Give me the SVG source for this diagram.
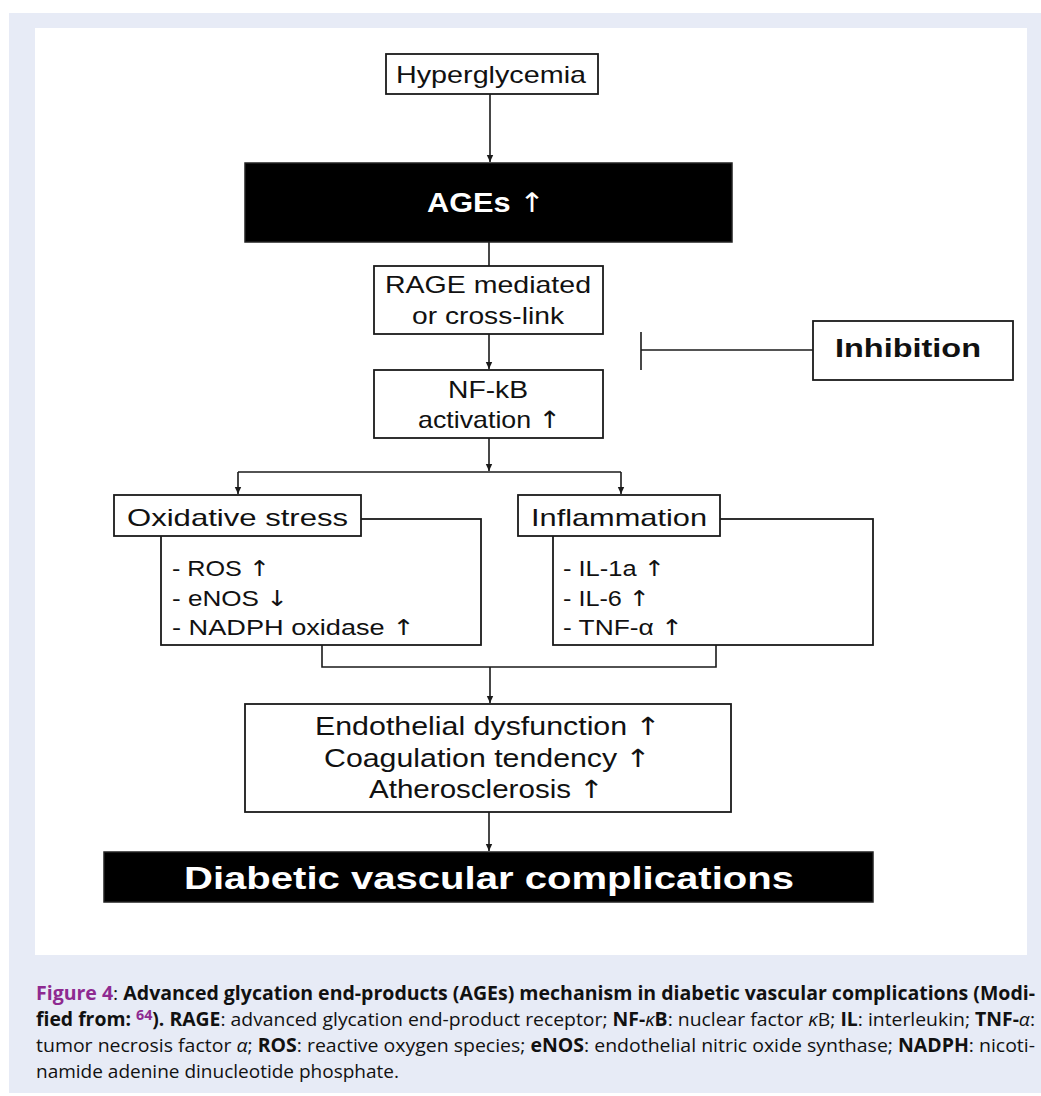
<svg xmlns="http://www.w3.org/2000/svg" width="1041" height="1096" viewBox="0 0 1041 1096">
<style>
.box{fill:#fff;stroke:#1a1a1a;stroke-width:1.8}
.dark{fill:#000;stroke:#222;stroke-width:1.5}
.t{font-family:"Liberation Sans",Arial,sans-serif;fill:#111}
.w{font-family:"Liberation Sans",Arial,sans-serif;fill:#fff;font-weight:bold}
.ar{font-family:"DejaVu Sans",sans-serif;font-weight:normal}
.c{fill:none;stroke:#1a1a1a;stroke-width:1.6}
.cap{font-family:"Open Sans","Noto Sans",sans-serif;font-size:19px;fill:#111}
.b{font-weight:bold}
.fig{fill:#8e2a91;font-weight:bold}
.i{font-style:italic}
</style>
<defs>
<marker id="ah" markerUnits="userSpaceOnUse" markerWidth="8" markerHeight="8" viewBox="0 0 8 8" refX="7" refY="4" orient="auto">
<path d="M0,0.8 L7,4 L0,7.2 Z" fill="#1a1a1a"/>
</marker>
</defs>
<rect x="0" y="0" width="1041" height="1096" fill="#fff"/>
<rect x="9" y="13" width="1032" height="1080" fill="#e7ebf6"/>
<rect x="35" y="28" width="992" height="927" fill="#fff"/>

<g id="connectors">
<line class="c" x1="490" y1="94" x2="490" y2="162" marker-end="url(#ah)"/>
<line class="c" x1="489" y1="242" x2="489" y2="266"/>
<line class="c" x1="489" y1="334" x2="489" y2="369" marker-end="url(#ah)"/>
<line class="c" x1="489" y1="438" x2="489" y2="471" marker-end="url(#ah)"/>
<polyline class="c" points="238,472 621,472"/>
<line class="c" x1="238" y1="472" x2="238" y2="494" marker-end="url(#ah)"/>
<line class="c" x1="621" y1="472" x2="621" y2="494" marker-end="url(#ah)"/>
<polyline class="c" points="322,645 322,667 716,667 716,645"/>
<line class="c" x1="490" y1="667" x2="490" y2="703" marker-end="url(#ah)"/>
<line class="c" x1="489" y1="812" x2="489" y2="851" marker-end="url(#ah)"/>
<line class="c" x1="813" y1="350" x2="641" y2="350"/>
<line class="c" x1="641" y1="332" x2="641" y2="370"/>
</g>

<g id="hyperglycemia">
<rect class="box" x="386" y="54" width="212" height="40"/>
<text class="t" x="396" y="83" font-size="24" textLength="190" lengthAdjust="spacingAndGlyphs">Hyperglycemia</text>
</g>
<g id="ages">
<rect class="dark" x="245" y="163" width="487" height="79"/>
<text class="w" x="427" y="212" font-size="27" textLength="118" lengthAdjust="spacingAndGlyphs">AGEs <tspan class="ar">↑</tspan></text>
</g>
<g id="rage">
<rect class="box" x="374" y="266" width="229" height="68"/>
<text class="t" x="385" y="293" font-size="24" textLength="206" lengthAdjust="spacingAndGlyphs">RAGE mediated</text>
<text class="t" x="412" y="324" font-size="24" textLength="152" lengthAdjust="spacingAndGlyphs">or cross-link</text>
</g>
<g id="inhibition">
<rect class="box" x="813" y="321" width="200" height="59"/>
<text class="t b" x="835" y="357" font-size="25" textLength="146" lengthAdjust="spacingAndGlyphs">Inhibition</text>
</g>
<g id="nfkb">
<rect class="box" x="374" y="370" width="229" height="68"/>
<text class="t" x="448" y="398" font-size="24" textLength="80" lengthAdjust="spacingAndGlyphs">NF-kB</text>
<text class="t" x="418" y="428" font-size="24" textLength="143" lengthAdjust="spacingAndGlyphs">activation <tspan class="ar">↑</tspan></text>
</g>
<g id="oxidative">
<rect class="box" x="161" y="519" width="320" height="126"/>
<rect class="box" x="114" y="495" width="247" height="41"/>
<text class="t" x="127" y="526" font-size="24" textLength="221" lengthAdjust="spacingAndGlyphs">Oxidative stress</text>
<text class="t" x="172" y="576" font-size="22" textLength="98" lengthAdjust="spacingAndGlyphs">- ROS <tspan class="ar">↑</tspan></text>
<text class="t" x="172" y="606" font-size="22" textLength="116" lengthAdjust="spacingAndGlyphs">- eNOS <tspan class="ar">↓</tspan></text>
<text class="t" x="172" y="635" font-size="22" textLength="243" lengthAdjust="spacingAndGlyphs">- NADPH oxidase <tspan class="ar">↑</tspan></text>
</g>
<g id="inflammation">
<rect class="box" x="553" y="519" width="320" height="126"/>
<rect class="box" x="518" y="495" width="202" height="41"/>
<text class="t" x="531" y="526" font-size="24" textLength="176" lengthAdjust="spacingAndGlyphs">Inflammation</text>
<text class="t" x="563" y="576" font-size="22" textLength="102" lengthAdjust="spacingAndGlyphs">- IL-1a <tspan class="ar">↑</tspan></text>
<text class="t" x="563" y="606" font-size="22" textLength="87" lengthAdjust="spacingAndGlyphs">- IL-6 <tspan class="ar">↑</tspan></text>
<text class="t" x="563" y="635" font-size="22" textLength="120" lengthAdjust="spacingAndGlyphs">- TNF-α <tspan class="ar">↑</tspan></text>
</g>
<g id="endothelial">
<rect class="box" x="245" y="704" width="486" height="108"/>
<text class="t" x="315" y="735" font-size="25" textLength="346" lengthAdjust="spacingAndGlyphs">Endothelial dysfunction <tspan class="ar">↑</tspan></text>
<text class="t" x="324" y="767" font-size="25" textLength="327" lengthAdjust="spacingAndGlyphs">Coagulation tendency <tspan class="ar">↑</tspan></text>
<text class="t" x="369" y="798" font-size="25" textLength="235" lengthAdjust="spacingAndGlyphs">Atherosclerosis <tspan class="ar">↑</tspan></text>
</g>
<g id="diabetic">
<rect class="dark" x="104" y="852" width="769" height="50"/>
<text class="w" x="184" y="889" font-size="31" textLength="610" lengthAdjust="spacingAndGlyphs">Diabetic vascular complications</text>
</g>

<g id="caption">
<text class="cap" x="36" y="1000" textLength="999" lengthAdjust="spacingAndGlyphs"><tspan class="fig">Figure 4</tspan>:  <tspan class="b">Advanced glycation end-products (AGEs) mechanism in diabetic vascular complications (Modi-</tspan></text>
<text class="cap" x="36" y="1026" textLength="999" lengthAdjust="spacingAndGlyphs"><tspan class="b">fied from: </tspan><tspan class="fig" font-size="14" dy="-6">64</tspan><tspan class="b" dy="6">). RAGE</tspan>: advanced glycation end-product receptor; <tspan class="b">NF-</tspan><tspan class="i">κ</tspan><tspan class="b">B</tspan>: nuclear factor <tspan class="i">κ</tspan>B; <tspan class="b">IL</tspan>: interleukin; <tspan class="b">TNF-</tspan><tspan class="i">α</tspan>:</text>
<text class="cap" x="36" y="1052" textLength="999" lengthAdjust="spacingAndGlyphs">tumor necrosis factor <tspan class="i">α</tspan>; <tspan class="b">ROS</tspan>: reactive oxygen species; <tspan class="b">eNOS</tspan>: endothelial nitric oxide synthase; <tspan class="b">NADPH</tspan>: nicoti-</text>
<text class="cap" x="36" y="1078" textLength="363" lengthAdjust="spacingAndGlyphs">namide adenine dinucleotide phosphate.</text>
</g>
</svg>
